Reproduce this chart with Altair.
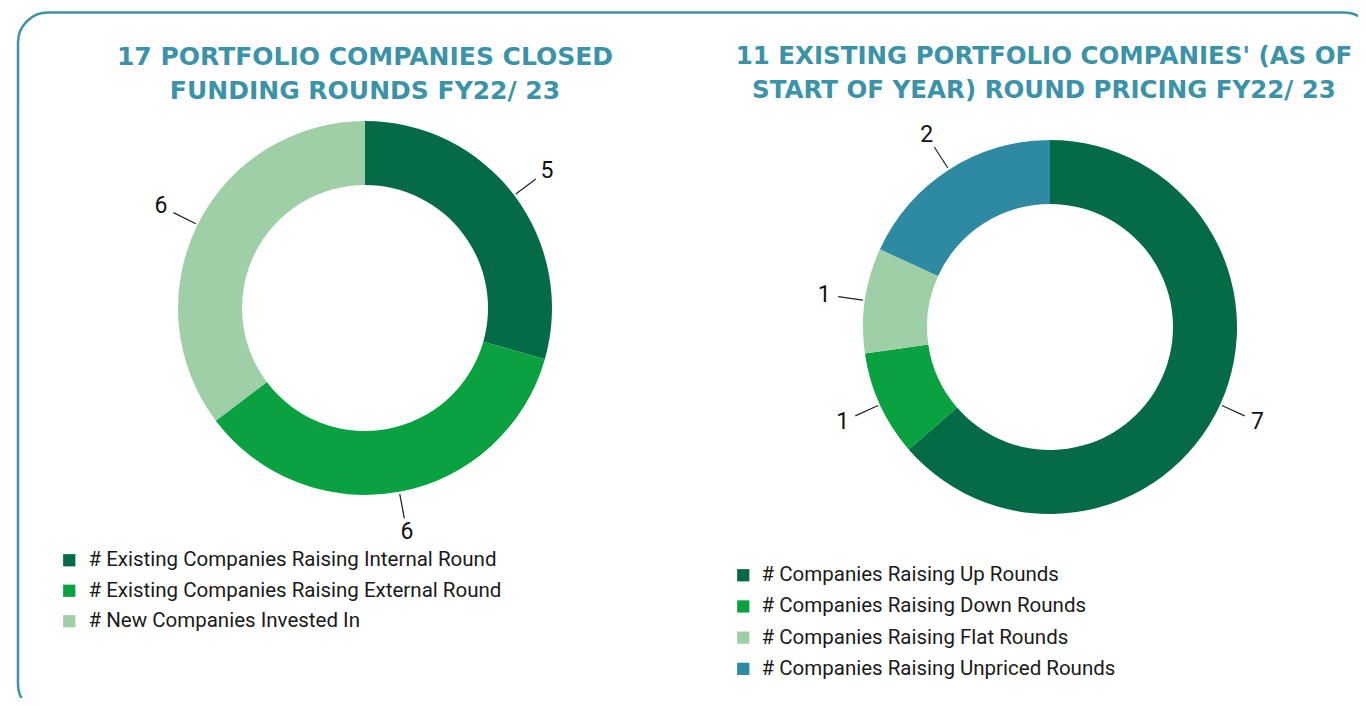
import altair as alt
import pandas as pd

# ---- data ----
left_title = ["17 PORTFOLIO COMPANIES CLOSED", "FUNDING ROUNDS FY22/ 23"]
left_categories = [
    "# Existing Companies Raising Internal Round",
    "# Existing Companies Raising External Round",
    "# New Companies Invested In",
]
left_values = [5, 6, 6]
left_colors = ["#056b46", "#0aa140", "#9ecfa7"]

right_title = ["11 EXISTING PORTFOLIO COMPANIES' (AS OF", "START OF YEAR) ROUND PRICING FY22/ 23"]
right_categories = [
    "# Companies Raising Up Rounds",
    "# Companies Raising Down Rounds",
    "# Companies Raising Flat Rounds",
    "# Companies Raising Unpriced Rounds",
]
right_values = [7, 1, 1, 2]
right_colors = ["#056b46", "#0aa140", "#9ecfa7", "#2e8aa3"]

TEAL = "#3a93a8"
R_IN, R_OUT = 123, 187


def donut(cats, vals, colors, cx, cy, lx, ly, loff, rowpad):
    df = pd.DataFrame({"cat": cats, "value": vals, "order": list(range(len(cats)))})
    base = alt.Chart(df)
    arc = base.mark_arc(innerRadius=R_IN, outerRadius=R_OUT).encode(
        theta=alt.Theta("value:Q", stack=True),
        color=alt.Color(
            "cat:N",
            scale=alt.Scale(domain=cats, range=colors),
            sort=cats,
            legend=alt.Legend(
                title=None,
                orient="none",
                legendX=lx,
                legendY=ly,
                symbolType="square",
                symbolSize=150,
                symbolStrokeWidth=0,
                labelFont="Roboto",
                labelFontSize=20.5,
                labelColor="#1a1a1a",
                labelOffset=loff,
                labelLimit=0,
                rowPadding=rowpad,
                padding=0,
            ),
        ),
        order=alt.Order("order:Q", sort="ascending"),
        x=alt.value(cx),
        y=alt.value(cy),
    )
    geo = (
        base.transform_window(cum="sum(value)", sort=[alt.SortField("order")], frame=[None, 0])
        .transform_joinaggregate(total="sum(value)")
        .transform_calculate(mid="(datum.cum - datum.value/2) / datum.total * 2 * PI")
        .transform_calculate(
            x1=f"{cx} + 189*sin(datum.mid)",
            y1=f"{cy} - 189*cos(datum.mid)",
            x2=f"{cx} + 214*sin(datum.mid)",
            y2=f"{cy} - 214*cos(datum.mid)",
            tx=f"{cx} + 228*sin(datum.mid)",
            ty=f"{cy} - 228*cos(datum.mid)",
        )
    )
    rules = geo.mark_rule(color="#222222", strokeWidth=1.2).encode(
        x=alt.X("x1:Q", scale=None, axis=None),
        y=alt.Y("y1:Q", scale=None, axis=None),
        x2="x2:Q",
        y2="y2:Q",
    )
    labels = geo.mark_text(
        font="Roboto", fontSize=23, fontWeight=400, color="#111111",
        align="center", baseline="middle",
    ).encode(
        x=alt.X("tx:Q", scale=None, axis=None),
        y=alt.Y("ty:Q", scale=None, axis=None),
        text="value:Q",
    )
    return arc, rules, labels


one = pd.DataFrame({"a": [0]})
card = alt.Chart(one).mark_rect(
    fill="white", stroke=TEAL, strokeWidth=2.5, cornerRadius=30
).encode(x=alt.value(10), x2=alt.value(1366), y=alt.value(4.5), y2=alt.value(706))


def title(lines, cx, size):
    return alt.Chart(one).mark_text(
        text=lines, font="DejaVu Sans", fontWeight="bold", fontSize=size,
        color=TEAL, align="center", baseline="top", lineHeight=34,
    ).encode(x=alt.value(cx), y=alt.value(37))


la, lr, ll = donut(left_categories, left_values, left_colors, 357, 300, 51, 542, 9, 9.5)
ra, rr, rl = donut(right_categories, right_values, right_colors, 1042, 319, 725, 557, 8, 10.2)

chart = (
    alt.layer(card, la, ra, lr, rr, ll, rl,
              title(left_title, 357, 25), title(right_title, 1036, 24.5))
    .resolve_scale(theta="independent", color="independent")
    .properties(width=1350, height=690, padding=0, autosize="none", background="white")
    .configure_view(strokeWidth=0)
)

chart.save("out.html", embed_options={"renderer": "svg", "actions": False})
